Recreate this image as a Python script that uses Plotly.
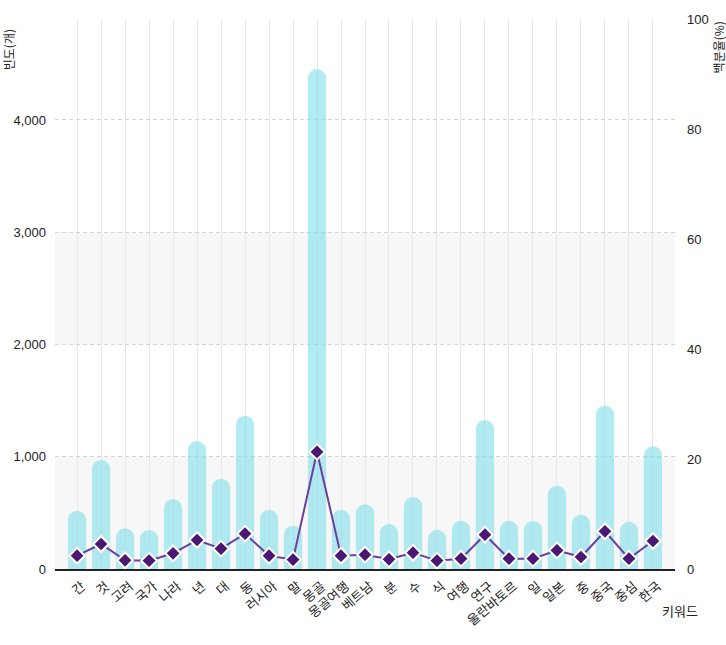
import plotly.graph_objects as go

categories = ["간", "것", "고려", "국가", "나라", "년", "대", "동", "러시아", "말", "몽골", "몽골여행",
              "베트남", "분", "수", "식", "여행", "연구", "울란바토르", "일", "일본", "중", "중국", "중심", "한국"]
freq = [519, 971, 363, 347, 624, 1140, 805, 1366, 528, 386, 4454, 528,
        576, 401, 641, 350, 430, 1327, 430, 428, 742, 484, 1455, 421, 1093]
pct = [2.42, 4.55, 1.58, 1.52, 2.85, 5.27, 3.70, 6.42, 2.42, 1.70, 21.3, 2.42,
       2.60, 1.76, 2.97, 1.52, 1.88, 6.24, 1.88, 1.88, 3.39, 2.18, 6.85, 1.88, 5.09]
left_ticks = [0, 1000, 2000, 3000, 4000]
right_ticks = [0, 20, 40, 60, 80, 100]
bands = [(0, 1000), (2000, 3000)]

FONT = "Liberation Sans, Noto Sans CJK KR, sans-serif"
ymax = max(freq) * 1.1

fig = go.Figure()
fig.add_trace(go.Bar(
    x=categories, y=freq, width=0.76,
    marker=dict(color="rgba(128,222,234,0.6)", cornerradius=10, line=dict(width=0)),
    yaxis="y", showlegend=False, hoverinfo="x+y"))
fig.add_trace(go.Scatter(
    x=categories, y=pct, mode="lines+markers", yaxis="y2",
    line=dict(color="#6b3fa0", width=2),
    marker=dict(symbol="diamond", size=12, color="#4a1872", line=dict(color="white", width=2)),
    showlegend=False))

for lo, hi in bands:
    fig.add_shape(type="rect", xref="paper", yref="y", x0=0, x1=1, y0=lo, y1=hi,
                  fillcolor="#f7f7f7", line=dict(width=0), layer="below")

fig.update_layout(
    width=726, height=645, margin=dict(l=55, r=51, t=19, b=76),
    plot_bgcolor="white", paper_bgcolor="white",
    font=dict(family=FONT, size=12, color="#222"),
    bargap=0.2,
    xaxis=dict(type="category", range=[-0.92, 24.92], tickangle=-40,
               showgrid=True, gridcolor="#e8e8e8", gridwidth=1,
               showline=True, linecolor="#222", linewidth=1.5,
               tickfont=dict(size=13, family="Noto Sans CJK KR"), ticks="", zeroline=False,
               ticklabelstandoff=3, ticklabelshift=5),
    yaxis=dict(range=[0, ymax], tickvals=left_ticks, tickformat=",", showgrid=True,
               gridcolor="#d4d4d4", griddash="4px,3px", gridwidth=1, zeroline=False,
               showline=False, ticks="", tickfont=dict(size=13), ticklabelstandoff=8),
    yaxis2=dict(range=[0, 100], tickvals=right_ticks, overlaying="y", side="right",
                showgrid=False, zeroline=False, showline=False, ticks="",
                tickfont=dict(size=13), ticklabelstandoff=11),
    annotations=[
        dict(text="빈도(개)", textangle=-90, xref="paper", yref="paper", x=-0.075, y=0.985,
             xanchor="center", yanchor="top", showarrow=False,
             font=dict(size=12, family="Noto Sans CJK KR")),
        dict(text="백분율(%)", textangle=-90, xref="paper", yref="paper", x=1.07, y=1.0,
             xanchor="center", yanchor="top", showarrow=False,
             font=dict(size=12, family="Noto Sans CJK KR")),
        dict(text="키워드", xref="paper", yref="paper", x=1.04, y=-0.055,
             xanchor="right", yanchor="top", showarrow=False,
             font=dict(size=13, family="Noto Sans CJK KR")),
    ],
)

fig.write_html("out.html")
